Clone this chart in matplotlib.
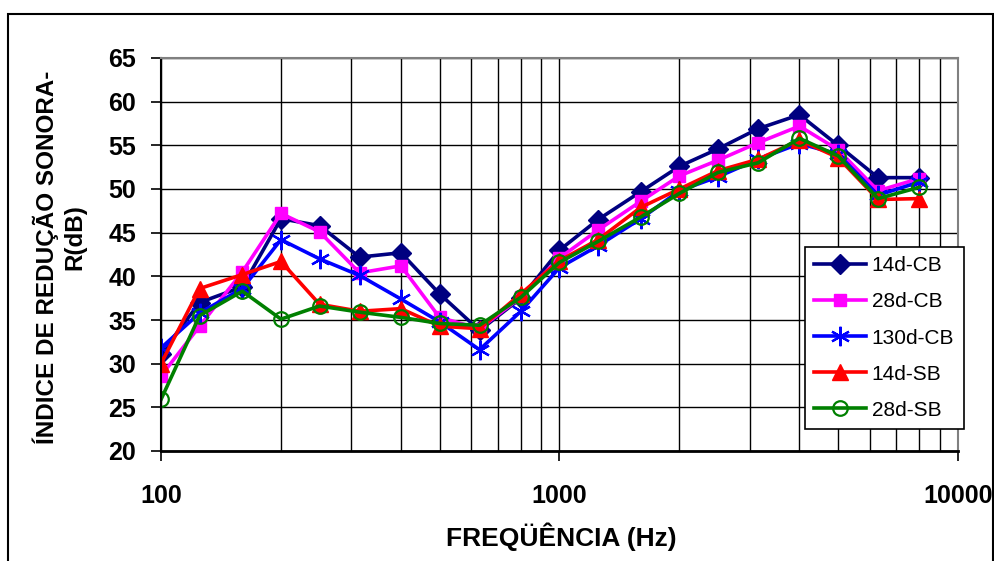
import matplotlib
matplotlib.use("Agg")
import matplotlib.pyplot as plt
from matplotlib.patches import Rectangle

plt.rcParams['font.family'] = ['Liberation Sans', 'DejaVu Sans']

# third-octave band centre frequencies (Hz)
freqs = [100, 125, 160, 200, 250, 315, 400, 500, 630, 800, 1000, 1250,
         1600, 2000, 2500, 3150, 4000, 5000, 6300, 8000]

# sound reduction index R (dB)
r_14d_cb = [31.1, 37.0, 38.8, 46.6, 45.8, 42.2, 42.7, 38.0, 33.8, 37.5,
            43.0, 46.5, 49.7, 52.6, 54.6, 56.9, 58.5, 55.0, 51.3, 51.3]
r_28d_cb = [28.6, 34.3, 40.5, 47.2, 45.1, 40.4, 41.2, 35.3, 34.0, 37.6,
            42.1, 45.3, 48.6, 51.5, 53.3, 55.3, 57.2, 54.5, 49.8, 51.2]
r_130d_cb = [31.8, 35.8, 38.6, 44.2, 42.0, 40.1, 37.4, 34.8, 31.6, 36.0,
             41.0, 43.5, 46.6, 49.8, 51.4, 53.4, 55.2, 54.0, 49.3, 50.8]
r_14d_sb = [30.0, 38.6, 40.2, 41.7, 36.8, 36.0, 36.3, 34.3, 34.0, 38.0,
            41.8, 44.2, 47.9, 50.0, 52.1, 53.4, 55.6, 53.6, 48.8, 48.9]
r_28d_sb = [25.9, 35.5, 38.3, 35.1, 36.6, 35.9, 35.3, 34.6, 34.4, 37.6,
            41.6, 44.0, 46.8, 49.5, 51.9, 53.0, 55.8, 53.8, 48.9, 50.2]

W, H = 995, 561
fig = plt.figure(figsize=(W / 100, H / 100), dpi=100)
ax = fig.add_axes([161 / W, 1 - 451 / H, (958 - 161) / W, (451 - 58) / H])

ax.plot(freqs, r_14d_cb, color='#000080', lw=2.6, marker='D', ms=10,
        label='14d-CB')
ax.plot(freqs, r_28d_cb, color='#FF00FF', lw=2.6, marker='s', ms=8.5,
        label='28d-CB')
ax.plot(freqs, r_130d_cb, color='#0000FF', lw=2.6, marker=(6, 2, 0), ms=14,
        mew=1.6, label='130d-CB')
ax.plot(freqs, r_14d_sb, color='#FF0000', lw=2.6, marker='^', ms=12,
        label='14d-SB')
ax.plot(freqs, r_28d_sb, color='#008000', lw=2.6, marker='o', ms=10.5,
        mfc='none', mew=1.6, label='28d-SB')

ax.set_xscale('log')
ax.set_xlim(100, 10000)
ax.set_ylim(20, 65)
ax.set_yticks(range(20, 66, 5))
ax.set_xticks([100, 1000, 10000])
ax.set_xticklabels(['100', '1000', '10000'])

# grid
ax.grid(True, which='major', color='black', lw=1)
ax.grid(True, which='minor', axis='x', color='black', lw=1)
ax.set_axisbelow(True)

ax.tick_params(axis='both', which='major', direction='out', length=7,
               width=1.2, labelsize=18, color='black')
ax.tick_params(axis='x', which='major', pad=17)
ax.tick_params(axis='y', which='major', pad=11)
ax.tick_params(axis='x', which='minor', length=0, labelbottom=False)
for lab in ax.get_xticklabels() + ax.get_yticklabels():
    lab.set_fontweight('bold')

ax.spines['left'].set_linewidth(1.5)
ax.spines['bottom'].set_linewidth(2)
ax.spines['top'].set_color('#808080')
ax.spines['right'].set_color('#808080')
ax.spines['top'].set_linewidth(1.5)
ax.spines['right'].set_linewidth(1.5)

# axis labels
fig.text(561 / W, 1 - 537 / H, 'FREQÜÊNCIA (Hz)', ha='center', va='center',
         fontsize=19, fontweight='bold')
fig.text(46 / W, 1 - 257 / H, 'ÍNDICE DE REDUÇÃO SONORA-', rotation=90,
         ha='center', va='center', fontsize=17.5, fontweight='bold')
fig.text(75 / W, 1 - 237 / H, 'R(dB)', rotation=90,
         ha='center', va='center', fontsize=17.5, fontweight='bold')

leg = ax.legend(loc='upper left', bbox_to_anchor=(805 / W, 1 - 247 / H),
                bbox_transform=fig.transFigure, borderaxespad=0,
                fontsize=15, handlelength=2.5, labelspacing=0.82,
                fancybox=False, framealpha=1, edgecolor='black',
                borderpad=0.45, handletextpad=0.25)
leg.get_frame().set_linewidth(1.2)

# outer chart frame
fig.add_artist(Rectangle((8 / W, -0.05), (993 - 8) / W, 1.05 - 14 / H,
                         transform=fig.transFigure, fill=False,
                         edgecolor='black', lw=1.5, clip_on=False))

fig.savefig('out.png', dpi=100)
